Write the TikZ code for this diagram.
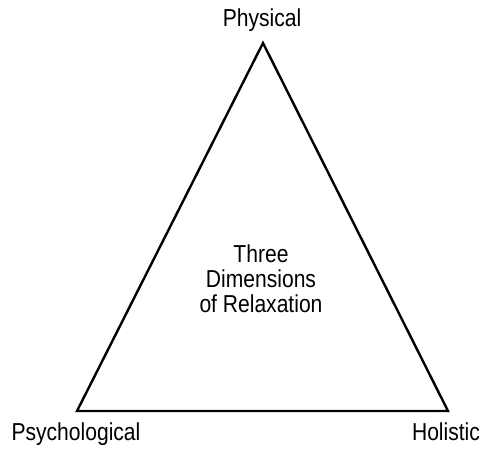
\documentclass[tikz,border=0pt]{standalone}
\usepackage{fontspec}
\setmainfont{Liberation Sans}[FakeStretch=0.86]
\usepackage{tikz}
\usetikzlibrary{positioning}

\begin{document}
\begin{tikzpicture}[x=1pt,y=-1pt,side/.style={line width=2.4pt,line join=miter},
lab/.style={anchor=base,inner sep=0pt,font=\fontsize{24.5}{25}\selectfont}]
\useasboundingbox(0,0)rectangle(484,452);
\coordinate(apex)at(263,43);
\coordinate(left)at(77,411);
\coordinate(right)at(448,411);
\draw[side](apex)--(left)--(right)--cycle;
\node[lab](physical)at(262,26.5){Physical};
\node[lab](psychological)at(76,440){Psychological};
\node[lab](holistic)at(446,440){Holistic};
\node[lab,align=center](dims)at(261,312){Three\\Dimensions\\of Relaxation};
\end{tikzpicture}
\end{document}
